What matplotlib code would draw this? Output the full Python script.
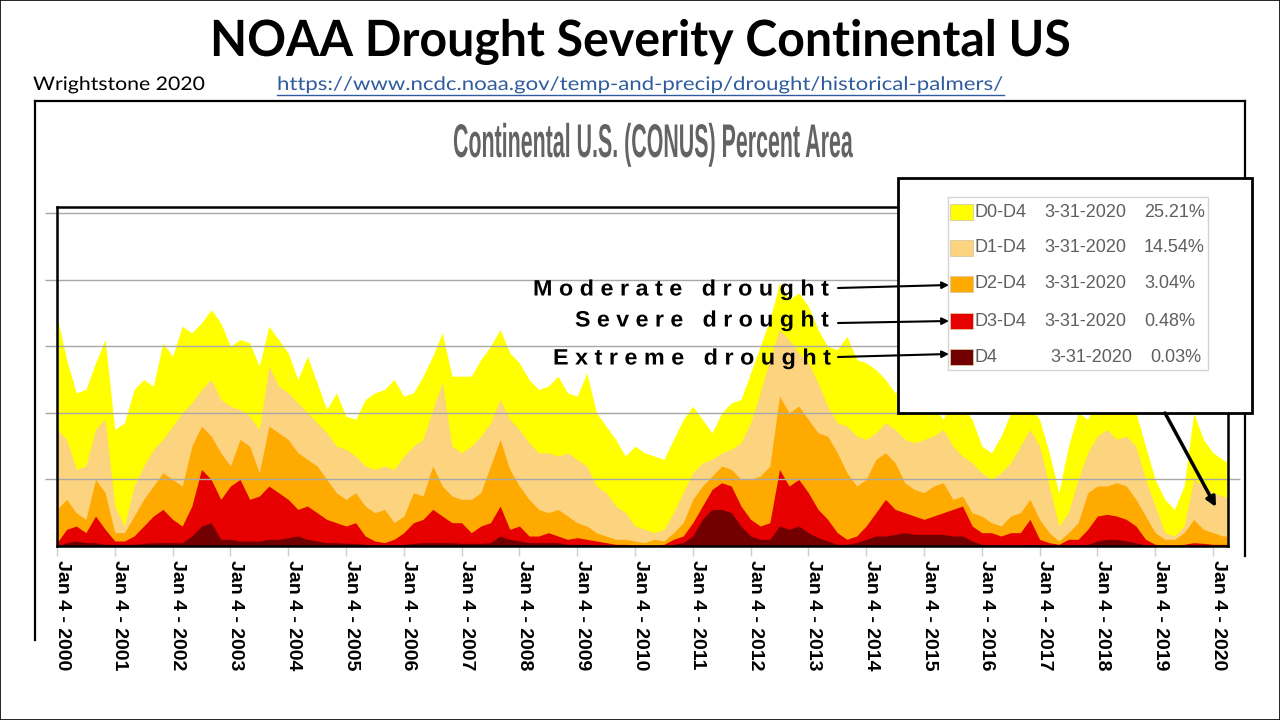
import numpy as np
import matplotlib
matplotlib.use("Agg")
import matplotlib.pyplot as plt
from matplotlib.patches import Rectangle, FancyArrowPatch
from matplotlib.lines import Line2D
from matplotlib.patheffects import AbstractPathEffect
from matplotlib.transforms import Affine2D

# ---------------- data (percent of CONUS area, cumulative categories) ----------------
dates = np.append(2000 + np.arange(122) / 6.0, 2020.25)

d0_d4 = [69, 56, 46, 47, 55, 62, 35, 37, 47, 50, 48, 61, 57, 66, 64, 67, 71, 67, 60, 62, 61, 54,
         66, 62, 58, 50, 57, 49, 41, 46, 39, 38, 44, 46, 47, 50, 45, 46, 51, 57, 64, 51, 51,
         51, 56, 60, 65, 58, 55, 50, 47, 48, 51, 46, 45, 52, 40, 36, 32, 27, 30, 28, 27, 26,
         32, 38, 42, 38, 34, 40, 43, 44, 52, 60, 68, 79, 74, 76, 72, 65, 60, 59, 63, 56, 55, 53, 50, 46,
         48, 50, 47, 42, 38, 45, 42, 38, 30, 28, 33, 40, 45, 42, 38, 28, 16, 30, 40, 38, 45, 48, 46, 44,
         40, 30, 20, 14, 11, 18, 40, 32, 28, 26,
         25.21]
d1_d4 = [35, 32, 23, 24, 35, 38, 12, 6, 18, 24, 29, 32, 36, 40, 43, 47, 50, 44, 42, 41, 39, 35,
         54, 48, 46, 43, 40, 37, 34, 30, 29, 27, 24, 23, 24, 23, 27, 30, 32, 41, 49, 30, 28,
         30, 33, 37, 44, 38, 35, 31, 28, 28, 27, 28, 26, 24, 18, 16, 12, 10, 6, 5, 4, 5,
         10, 16, 22, 25, 26, 28, 29, 31, 37, 46, 56, 65, 62, 58, 55, 49, 42, 37, 36, 33, 32, 34, 37, 35,
         32, 31, 32, 33, 35, 30, 27, 25, 22, 20, 22, 25, 30, 35, 30, 18, 6, 10, 20, 28, 33, 35, 32, 33,
         30, 20, 12, 4, 3, 6, 20, 18, 16, 15,
         14.54]
d2_d4 = [11, 14, 10, 8, 20, 16, 4, 4, 9, 14, 18, 22, 20, 18, 30, 36, 33, 28, 24, 32, 30, 22,
         36, 34, 32, 28, 26, 24, 20, 16, 14, 16, 12, 10, 11, 7, 9, 16, 15, 24, 18, 15, 14,
         14, 16, 24, 32, 23, 18, 14, 11, 10, 11, 9, 7, 6, 4, 3, 2, 2, 1.5, 1, 2, 1.5,
         4, 7, 14, 18, 21, 24, 23, 20, 20, 21, 24, 45, 40, 42, 38, 34, 33, 28, 22, 18, 20, 26, 28, 25,
         19, 17, 16, 18, 19, 14, 15, 10, 9, 7, 6, 9, 10, 14, 8, 4, 1.5, 4, 7, 16, 18, 18, 19, 18,
         14, 9, 4, 2, 2, 4, 8, 5, 4, 3,
         3.04]
d3_d4 = [1, 5, 6, 4, 9, 5, 1.5, 1.5, 3, 6, 9, 11, 8, 6, 12, 23, 20, 14, 18, 20, 14, 15,
         18, 16, 14, 11, 12, 10, 8, 7, 6, 7, 3, 1.5, 1, 2, 4, 7, 8, 11, 9, 7, 7,
         4, 6, 7, 12, 5, 6, 3, 3, 4, 3, 2, 2.5, 2, 1.5, 1, 0.5, 0.5, 0.3, 0.3, 0.3, 0.5,
         2, 3, 7, 12, 17, 19, 18, 12, 8, 6, 7, 23, 18, 20, 16, 11, 8, 4, 2, 3, 6, 10, 14, 11,
         10, 9, 8, 9, 10, 11, 12, 6, 4, 4, 3, 4, 4, 8, 2, 1, 0.5, 2, 2, 5, 9, 9.5, 9, 8,
         6, 2, 0.5, 0.3, 0.3, 0.5, 1, 0.8, 0.5, 0.5,
         0.48]
d4 = [0, 1, 1.5, 1, 1, 0.5, 0.5, 0.5, 0.5, 0.8, 1, 1, 1, 1, 3, 6, 7, 2, 2, 1.5, 1.5, 1.5,
      2, 2, 2.5, 3, 2, 1.5, 1, 1, 0.8, 0.8, 0.5, 0.3, 0.3, 0.3, 0.5, 0.8, 1, 1, 1, 1, 0.8,
      0.8, 0.8, 1, 3, 2, 1.5, 1, 1, 1, 1, 0.5, 0.5, 0.5, 0.2, 0.2, 0.2, 0.2, 0.2, 0.2, 0.2, 0.2,
      0.5, 1, 3, 8, 11, 11, 10, 6, 3, 2, 2, 6, 5, 6, 4, 2.5, 1.5, 0.5, 0.5, 1, 2, 3, 3, 3.5,
      4, 3.5, 3.5, 3.5, 3.5, 3, 3, 1.5, 0.5, 0.4, 0.3, 0.3, 0.3, 0.5, 0.3, 0.3, 0.2, 0.3, 0.3, 0.5,
      1.5, 2, 2, 1.5, 1, 0.3, 0.1, 0.1, 0.1, 0.1, 0.1, 0.1, 0.1, 0.1,
      0.03]

series = [d0_d4, d1_d4, d2_d4, d3_d4, d4]
colors = ['#FFFF00', '#FCD37F', '#FFAA00', '#E60000', '#730000']
legend_labels = ['D0-D4', 'D1-D4', 'D2-D4', 'D3-D4', 'D4']
legend_dates = ['3-31-2020'] * 5
legend_values = ['25.21%', '14.54%', '3.04%', '0.48%', '0.03%']
years = list(range(2000, 2021))
year_labels = [f"Jan 4 - {y}" for y in years]
grid_values = [20, 40, 60, 80, 100]
category_labels = ["Moderate drought", "Severe drought", "Extreme drought"]

main_title = "NOAA Drought Severity Continental US"
chart_title = "Continental U.S. (CONUS) Percent Area"
author = "Wrightstone 2020"
source_url = "https://www.ncdc.noaa.gov/temp-and-precip/drought/historical-palmers/"

# ---------------- helpers ----------------
W, H = 1280, 720


def fx(px):
    return px / W


def fy(py):
    return 1 - py / H


class HSqueeze(AbstractPathEffect):
    """Scale text horizontally about an anchor x (display px)."""

    def __init__(self, sx, cx):
        super().__init__((0, 0))
        self.sx, self.cx = sx, cx

    def draw_path(self, renderer, gc, tpath, affine, rgbFace=None):
        t = affine + Affine2D().translate(-self.cx, 0).scale(self.sx, 1).translate(self.cx, 0)
        renderer.draw_path(gc, tpath, t, rgbFace)


fig = plt.figure(figsize=(12.8, 7.2), dpi=100)
fig.patch.set_facecolor('white')

# ---------------- plot ----------------
ax = fig.add_axes([fx(57), fy(546), fx(1228) - fx(57), (546 - 207) / H])
ax.set_xlim(2000.0, 2020.26)
ax.set_ylim(0, 101.8)
for vals, c in zip(series, colors):
    ax.fill_between(dates, 0, vals, color=c, lw=0, zorder=2)
ax.hlines(grid_values, 2000 - 12 / 57.8, 2020.26 + 12 / 57.8, colors='#a8a8a8',
          lw=1, zorder=3, clip_on=False)
ax.set_xticks(years)
ax.set_yticks([])
ax.tick_params(axis='x', length=7, width=1, color='#cfcfcf', labelbottom=False, direction='out')
for s in ['left', 'bottom', 'top', 'right']:
    ax.spines[s].set_linewidth(1.8)
    ax.spines[s].set_color('black')
    ax.spines[s].set_zorder(4)

xaxis_tr = ax.get_xaxis_transform()
for y, lab in zip(years, year_labels):
    ax.text(y + 0.087, -(560 - 546) / 339, lab, transform=xaxis_tr, rotation=-90,
            ha='center', va='top', fontsize=14, fontweight='bold', family='Liberation Sans')

# ---------------- outer frame lines ----------------
frame_kw = dict(color='black', lw=1.6, transform=fig.transFigure, zorder=5)
fig.add_artist(Line2D([fx(35), fx(1245)], [fy(101), fy(101)], **frame_kw))
fig.add_artist(Line2D([fx(35), fx(35)], [fy(101), fy(640)], **frame_kw))
fig.add_artist(Line2D([fx(1245), fx(1245)], [fy(101), fy(178)], **frame_kw))
fig.add_artist(Line2D([fx(1245), fx(1245)], [fy(413), fy(556)], **frame_kw))
fig.add_artist(Rectangle((0, 0), 1, 1, transform=fig.transFigure, fill=False,
                         ec='black', lw=1.2, zorder=30))

# ---------------- titles ----------------
t_main = fig.text(fx(640), fy(56), main_title, ha='center', va='baseline',
                  fontsize=36, fontweight='bold', family='Lato', color='black')
t_chart = fig.text(fx(653), fy(157), chart_title, ha='center', va='baseline',
                   fontsize=34, fontweight='bold', family='Liberation Sans', color='#636363')
t_author = fig.text(fx(33), fy(90), author, ha='left', va='baseline',
                    fontsize=13.5, family='Lato', color='black')
t_url = fig.text(fx(277), fy(90), source_url, ha='left', va='baseline',
                 fontsize=13.5, family='Lato', color='#2F5C9E')

# ---------------- legend box ----------------
fig.add_artist(Rectangle((fx(898), fy(413)), fx(1252) - fx(898), (413 - 178) / H,
                         transform=fig.transFigure, fc='white', ec='black', lw=2, zorder=10))
fig.add_artist(Rectangle((fx(948), fy(370)), fx(1208) - fx(948), (370 - 197) / H,
                         transform=fig.transFigure, fc='white', ec='#d4d4d4', lw=1, zorder=11))
row_y = [212, 248, 284, 321, 357]
date_x = [1044, 1044, 1044, 1044, 1050]
val_x = [1144, 1144, 1144, 1144, 1150]
for i, c in enumerate(colors):
    yc = row_y[i]
    fig.add_artist(Rectangle((fx(950), fy(yc + 8)), 23 / W, 16 / H, transform=fig.transFigure,
                             fc=c, ec='#d9c9a0', lw=0.6, zorder=12))
    tk = dict(va='center', ha='left', fontsize=13, color='#5f5f5f',
              family='Liberation Sans', zorder=13)
    fig.text(fx(975), fy(yc), legend_labels[i], **tk)
    fig.text(fx(date_x[i]), fy(yc), legend_dates[i], **tk)
    fig.text(fx(val_x[i]), fy(yc), legend_values[i], **tk)

# ---------------- category annotations ----------------
label_y = [290, 321, 359]
label_right = [828, 828, 830]
label_width = [295, 253, 277]
arrow_pts = [((838, 288), (949, 285)), ((838, 323), (949, 321)), ((838, 357), (949, 354))]
cat_texts = []
for lab, yc, xr, (pa, pb) in zip(category_labels, label_y, label_right, arrow_pts):
    spaced = "   ".join(" ".join(w) for w in lab.split())
    cat_texts.append(fig.text(fx(xr), fy(yc), spaced, ha='right', va='center', fontsize=16,
                              fontweight='bold', family='Liberation Sans', color='black',
                              zorder=14))
    fig.add_artist(FancyArrowPatch((fx(pa[0]), fy(pa[1])), (fx(pb[0]), fy(pb[1])),
                                   transform=fig.transFigure, arrowstyle='-|>',
                                   mutation_scale=10, lw=1.5, color='black',
                                   shrinkA=0, shrinkB=0, zorder=15))
fig.add_artist(FancyArrowPatch((fx(1165), fy(413)), (fx(1216), fy(507)),
                               transform=fig.transFigure, arrowstyle='-|>',
                               mutation_scale=14, lw=2.5, color='black',
                               shrinkA=0, shrinkB=0, zorder=15))

# ---------------- fit text widths ----------------
fig.canvas.draw()
renderer = fig.canvas.get_renderer()
fits = [(t_main, 860, 640), (t_chart, 400, 653), (t_author, 172, 33), (t_url, 727, 277)]
fits += [(t, w, xr) for t, w, xr in zip(cat_texts, label_width, label_right)]
for t, target, anchor in fits:
    w = t.get_window_extent(renderer).width
    t.set_path_effects([HSqueeze(target / w, anchor)])

fig.add_artist(Line2D([fx(277), fx(1004)], [fy(94.5), fy(94.5)], color='#2F5C9E', lw=1,
                      transform=fig.transFigure))

fig.savefig('out.png', dpi=100)
